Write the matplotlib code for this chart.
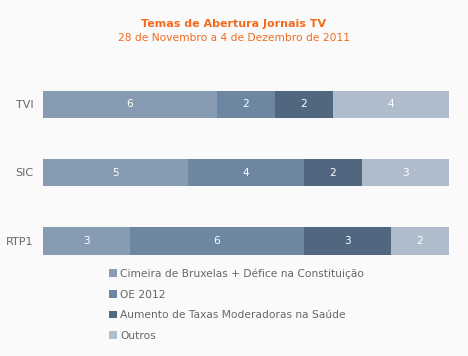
import matplotlib
matplotlib.use("Agg")
import matplotlib.pyplot as plt
from matplotlib.patches import Patch

categories = ["RTP1", "SIC", "TVI"]
series_names = ["Cimeira de Bruxelas + Défice na Constituição", "OE 2012",
                "Aumento de Taxas Moderadoras na Saúde", "Outros"]
values = {
    "Cimeira de Bruxelas + Défice na Constituição": [3, 5, 6],
    "OE 2012": [6, 4, 2],
    "Aumento de Taxas Moderadoras na Saúde": [3, 2, 2],
    "Outros": [2, 3, 4],
}
colors = ["#879bb2", "#6d87a3", "#51667f", "#afbccb"]
title = "Temas de Abertura Jornais TV"
subtitle = "28 de Novembro a 4 de Dezembro de 2011"

bg = "#fafafa"
fig = plt.figure(figsize=(4.68, 3.56), dpi=100, facecolor=bg)
ax = fig.add_axes([43/468, 1-275/356, (449-43)/468, 205/356])
ax.set_facecolor(bg)

left = [0]*len(categories)
for name, c in zip(series_names, colors):
    vals = values[name]
    bars = ax.barh(range(len(categories)), vals, left=left, height=0.4, color=c, edgecolor="none")
    for b, v, l in zip(bars, vals, left):
        ax.text(l + v/2, b.get_y() + b.get_height()/2, str(v), ha="center", va="center",
                color="white", fontsize=7.7)
    left = [a + b for a, b in zip(left, vals)]

ax.set_xlim(0, 14)
ax.set_ylim(-0.5, 2.5)
ax.set_yticks(range(len(categories)))
ax.set_yticklabels(categories, color="#666666", fontsize=8)
ax.tick_params(axis="y", length=0, pad=7)
ax.set_xticks([])
for s in ax.spines.values():
    s.set_visible(False)

fig.text(0.5, 1-24/356, title, ha="center", va="center", color="#f26b1d", fontsize=8, fontweight="bold")
fig.text(0.5, 1-38/356, subtitle, ha="center", va="center", color="#f26b1d", fontsize=7.7)

handles = [Patch(facecolor=c, edgecolor="none") for c in colors]
leg = fig.legend(handles, series_names, loc="upper left", bbox_to_anchor=(104/468, 1-263/356),
                 frameon=False, fontsize=7.7, handlelength=0.7, handleheight=0.7,
                 handletextpad=0.3, labelspacing=1.0, borderpad=0)
for t in leg.get_texts():
    t.set_color("#666666")

fig.savefig("out.png", dpi=100, facecolor=bg)
